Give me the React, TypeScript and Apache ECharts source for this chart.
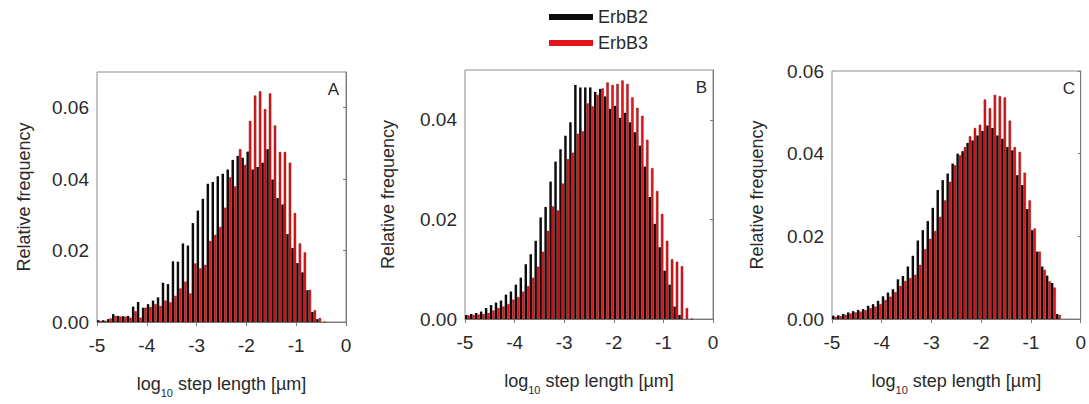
import React, { useEffect, useRef } from "react";
import * as echarts from "echarts";

// Histogram bins of log10 step length: first bin edge and bin width
const BIN_START = -5;
const BIN_WIDTH = 0.1;

const seriesNames = ["ErbB2", "ErbB3"];
const panelLetters = ["A", "B", "C"];
const yMaxes = [0.07, 0.05, 0.06];
const yTickStep = 0.02;
const xMin = -5;
const xMax = 0;
const xTickStep = 1;

// Panel A
const erbB2_A = [
  0.0005, 0.0005, 0.0008, 0.0022, 0.0017, 0.0016, 0.0017, 0.0043, 0.0056, 0.004,
  0.005, 0.006, 0.0069, 0.011, 0.0106, 0.017, 0.0169, 0.022, 0.0214, 0.0277,
  0.0312, 0.0345, 0.0387, 0.0392, 0.0408, 0.0415, 0.0427, 0.0454, 0.0465, 0.046,
  0.0477, 0.0427, 0.0434, 0.0446, 0.0484, 0.0399, 0.0347, 0.0329, 0.0246, 0.0207,
  0.0165, 0.0139, 0.0089, 0.0028, 0.0008, 0.0,
];
const erbB3_A = [
  0.0003, 0.0003, 0.001, 0.0017, 0.0015, 0.0015, 0.0012, 0.003, 0.0012, 0.004,
  0.0042, 0.005, 0.0045, 0.006, 0.0055, 0.0073, 0.0094, 0.0113, 0.008, 0.0164,
  0.015, 0.016, 0.0227, 0.0244, 0.0266, 0.032, 0.0405, 0.038, 0.0484, 0.044,
  0.0563, 0.0634, 0.0646, 0.0596, 0.064, 0.055, 0.0476, 0.0476, 0.0446, 0.0305,
  0.022, 0.0195, 0.009, 0.0033, 0.0011, 0.0,
];

// Panel B
const erbB2_B = [
  0.0008, 0.001, 0.0012, 0.0015, 0.0022, 0.0028, 0.0033, 0.0037, 0.0049, 0.0055,
  0.0069, 0.0083, 0.011, 0.013, 0.0157, 0.0204, 0.0225, 0.0276, 0.0316, 0.0341,
  0.0368, 0.0395, 0.047, 0.0465, 0.0465, 0.0465, 0.0456, 0.0462, 0.0447, 0.0422,
  0.0428, 0.0404, 0.0414, 0.0395, 0.0375, 0.0348, 0.0306, 0.0245, 0.0191, 0.0144,
  0.0097, 0.0069, 0.0025, 0.0008, 0.0, 0.0,
];
const erbB3_B = [
  0.0007, 0.0008, 0.0009, 0.001, 0.0012, 0.0017, 0.0022, 0.0025, 0.003, 0.0039,
  0.0044, 0.0055, 0.0066, 0.0083, 0.0105, 0.0135, 0.0177, 0.0226, 0.0218, 0.0272,
  0.0321, 0.0334, 0.0372, 0.0377, 0.0433, 0.0427, 0.045, 0.0463, 0.0475, 0.047,
  0.0472, 0.0479, 0.0472, 0.0445, 0.0424, 0.0408, 0.036, 0.0303, 0.0257, 0.0211,
  0.0157, 0.012, 0.0115, 0.0106, 0.0022, 0.0,
];

// Panel C
const erbB2_C = [
  0.0008, 0.0009, 0.0012, 0.0016, 0.0019, 0.0022, 0.0024, 0.0032, 0.0036, 0.0044,
  0.0055, 0.0064, 0.0072, 0.0096, 0.0104, 0.0127, 0.0153, 0.019, 0.0215, 0.0237,
  0.0269, 0.0312, 0.0336, 0.0352, 0.0376, 0.04, 0.0406, 0.0426, 0.0432, 0.0444,
  0.0455, 0.0468, 0.0462, 0.0444, 0.0436, 0.0416, 0.0408, 0.0348, 0.0324, 0.0266,
  0.0215, 0.0163, 0.0127, 0.0105, 0.0087, 0.0012,
];
const erbB3_C = [
  0.0005, 0.0007, 0.001, 0.0013, 0.0016, 0.0018, 0.0021, 0.0026, 0.003, 0.0036,
  0.0046, 0.0054, 0.0065, 0.008, 0.0092, 0.0099, 0.0107, 0.0131, 0.0169, 0.0194,
  0.0213, 0.0247, 0.0287, 0.0332, 0.0372, 0.0396, 0.0416, 0.0442, 0.0462, 0.047,
  0.0531, 0.051, 0.0542, 0.0539, 0.0536, 0.048, 0.0416, 0.0404, 0.0354, 0.0287,
  0.0219, 0.0163, 0.0119, 0.0091, 0.0076, 0.001,
];

const panelData = [
  [erbB2_A, erbB3_A],
  [erbB2_B, erbB3_B],
  [erbB2_C, erbB3_C],
];

const FONT = "Liberation Sans, Arial, sans-serif";
const TEXT = "#2a2a2a";
const AXIS = "#7a7a7a";

const grids = [
  { left: 97, top: 72, width: 249, height: 250 },
  { left: 465, top: 70, width: 248, height: 249 },
  { left: 832, top: 71, width: 250, height: 248 },
];
const yNameGaps = [64, 68, 66];

export default function App() {
  const ref = useRef<HTMLDivElement>(null);

  useEffect(() => {
    if (!ref.current) return;
    const chart = echarts.init(ref.current, undefined, { renderer: "svg" });

    const binCenter = (i: number) =>
      Math.round((BIN_START + (i + 0.5) * BIN_WIDTH) * 1000) / 1000;

    const xAxes = grids.map((_, k) => ({
      type: "value",
      gridIndex: k,
      min: xMin,
      max: xMax,
      interval: xTickStep,
      name: "{n|log}{s|10}{n| step length [µm]}",
      nameLocation: "middle",
      nameGap: 48,
      nameTextStyle: {
        rich: {
          n: { fontFamily: FONT, fontSize: 18, color: TEXT, lineHeight: 28, verticalAlign: "middle" },
          s: { fontFamily: FONT, fontSize: 11, color: TEXT, lineHeight: 11, verticalAlign: "bottom" },
        },
      },
      axisLine: { show: true, lineStyle: { color: AXIS, width: 1 } },
      axisTick: { show: true, length: 4, lineStyle: { color: AXIS } },
      axisLabel: { fontFamily: FONT, fontSize: 19, color: TEXT, margin: 14 },
      splitLine: { show: false },
    }));

    const yAxes = grids.map((_, k) => ({
      type: "value",
      gridIndex: k,
      min: 0,
      max: yMaxes[k],
      interval: yTickStep,
      name: "Relative frequency",
      nameLocation: "middle",
      nameGap: yNameGaps[k],
      nameTextStyle: { fontFamily: FONT, fontSize: 18, color: TEXT },
      axisLine: { show: true, lineStyle: { color: AXIS, width: 1 } },
      axisTick: { show: true, length: 3, lineStyle: { color: AXIS } },
      axisLabel: {
        fontFamily: FONT,
        fontSize: 19,
        color: TEXT,
        margin: 8,
        showMaxLabel: Math.abs(yMaxes[k] / yTickStep - Math.round(yMaxes[k] / yTickStep)) < 1e-6,
        formatter: (v: number) => v.toFixed(2),
      },
      splitLine: { show: false },
    }));

    const series: any[] = [];
    panelData.forEach((pair, k) => {
      pair.forEach((vals, s) => {
        series.push({
          type: "bar",
          name: seriesNames[s],
          xAxisIndex: k,
          yAxisIndex: k,
          barWidth: 2.45,
          barGap: "0%",
          data: vals.map((v, i) => [binCenter(i), v]),
          itemStyle:
            s === 0
              ? { color: "#0c0c0c" }
              : { color: "#e3161c", borderColor: "#6e0000", borderWidth: 0.4 },
        });
      });
    });

    const letterPos = [
      { x: 339, y: 81 },
      { x: 707, y: 79 },
      { x: 1075, y: 80 },
    ];

    chart.setOption({
      animation: false,
      backgroundColor: "#ffffff",
      grid: grids.map((g) => ({
        ...g,
        show: true,
        borderColor: "#8c8c8c",
        borderWidth: 1,
        backgroundColor: "transparent",
        containLabel: false,
      })),
      legend: {
        data: seriesNames,
        orient: "vertical",
        left: 544,
        top: 3,
        itemWidth: 44,
        itemHeight: 6,
        itemGap: 8,
        icon: "rect",
        itemStyle: { borderWidth: 0 },
        textStyle: { fontFamily: FONT, fontSize: 18, color: TEXT },
      },
      xAxis: xAxes,
      yAxis: yAxes,
      series,
      graphic: panelLetters.map((t, k) => ({
        type: "text",
        x: letterPos[k].x,
        y: letterPos[k].y,
        style: {
          text: t,
          fontFamily: FONT,
          fontSize: 17,
          fill: TEXT,
          textAlign: "right",
          textVerticalAlign: "top",
        },
      })),
    });

    return () => chart.dispose();
  }, []);

  return (
    <div
      ref={ref}
      style={{ position: "fixed", left: 0, top: 0, width: 1089, height: 404, background: "#fff" }}
    />
  );
}
